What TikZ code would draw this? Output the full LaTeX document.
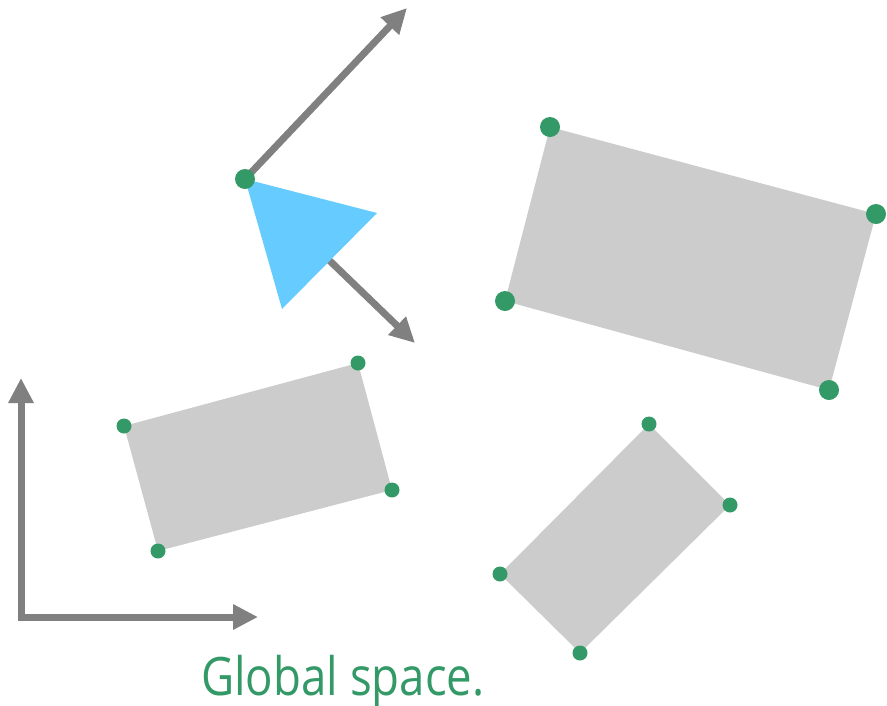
\documentclass[tikz,border=0pt]{standalone}
\usepackage{fontspec}
\setmainfont{Open Sans}
\usetikzlibrary{arrows.meta}
\definecolor{dotgreen}{HTML}{339966}
\definecolor{boxgray}{HTML}{CCCCCC}
\definecolor{arrowgray}{HTML}{808080}
\definecolor{triblue}{HTML}{66CCFF}
\tikzset{
  vec/.style={draw=arrowgray, line width=7pt, -{Triangle[width=24pt,length=25pt]}},
  bigdot/.style={circle, fill=dotgreen, inner sep=0pt, minimum size=20pt},
  smalldot/.style={circle, fill=dotgreen, inner sep=0pt, minimum size=15pt},
  boxfill/.style={fill=boxgray}
}
\begin{document}
\begin{tikzpicture}[x=1pt,y=-1pt]
\useasboundingbox (0,0) rectangle (887,705);
% axes
\coordinate (o) at (21,617);
\coordinate (ax) at (258,617);
\coordinate (ay) at (21,378);
\draw[vec] ([xshift=-3.5pt]o) -- (ax);
\draw[vec] ([yshift=3.5pt]o) -- (ay);
% local frame of triangle
\coordinate (t1) at (245,179);
\coordinate (t2) at (377,213);
\coordinate (t3) at (282,309);
\coordinate (u) at (407,8);
\coordinate (v) at (415,343);
\draw[vec] (t1) -- (u);
\draw[vec] (t1) -- (v);
\fill[triblue] (t1) -- (t2) -- (t3) -- cycle;
\node[bigdot] (d0) at (t1) {};
% big rectangle
\coordinate (a1) at (550,127);
\coordinate (a2) at (876,214);
\coordinate (a3) at (829,390);
\coordinate (a4) at (505,301);
\fill[boxfill] (a1) -- (a2) -- (a3) -- (a4) -- cycle;
\foreach \p in {a1,a2,a3,a4} \node[bigdot] (d\p) at (\p) {};
% left rectangle
\coordinate (b1) at (124,426);
\coordinate (b2) at (358,363);
\coordinate (b3) at (392,490);
\coordinate (b4) at (158,551);
\fill[boxfill] (b1) -- (b2) -- (b3) -- (b4) -- cycle;
\foreach \p in {b1,b2,b3,b4} \node[smalldot] (d\p) at (\p) {};
% bottom-right rectangle
\coordinate (c1) at (649,424);
\coordinate (c2) at (730,505);
\coordinate (c3) at (580,653);
\coordinate (c4) at (500,574);
\fill[boxfill] (c1) -- (c2) -- (c3) -- (c4) -- cycle;
\foreach \p in {c1,c2,c3,c4} \node[smalldot] (d\p) at (\p) {};
% label
\node[anchor=base west, inner sep=0pt, text=dotgreen, xscale=0.86, font=\fontsize{53}{60}\selectfont] (lbl) at (201,695) {Global space.};
\end{tikzpicture}
\end{document}
